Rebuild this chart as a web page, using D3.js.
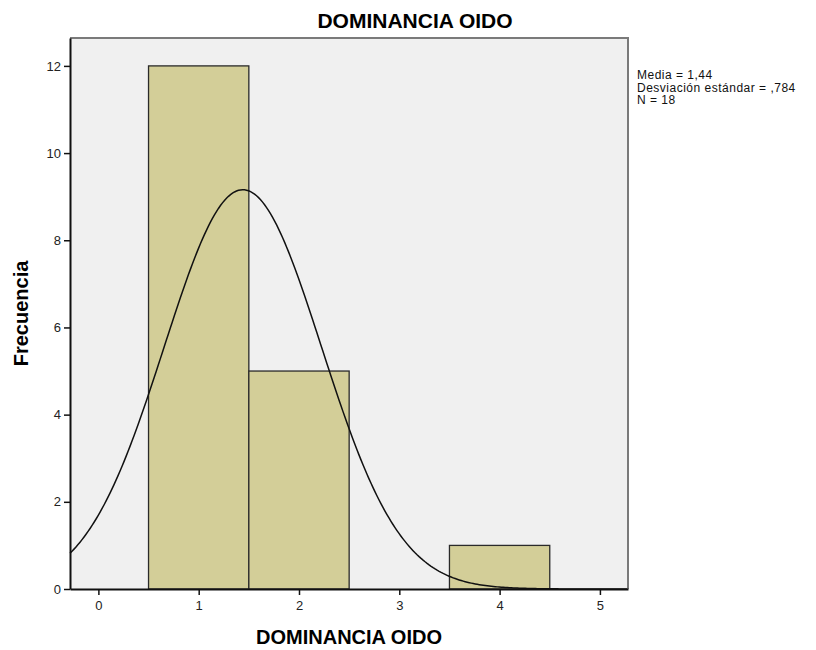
<!DOCTYPE html>
<html>
<head>
<meta charset="utf-8">
<script src="https://cdn.jsdelivr.net/npm/d3@7"></script>
<style>
  body { margin: 0; background: #fff; }
  svg text { font-family: "Liberation Sans", Arial, sans-serif; }
</style>
</head>
<body>
<div id="chart"></div>
<script>
// Datos del histograma
const binStarts = [0.5, 1.5, 2.5, 3.5];
const binCounts = [12, 5, 0, 1];
const binWidth = 1;
const xTicks = [0, 1, 2, 3, 4, 5];
const yTicks = [0, 2, 4, 6, 8, 10, 12];
const media = 1.44;
const desviacion = 0.784;
const n = 18;
const statLines = ["Media = 1,44", "Desviación estándar = ,784", "N = 18"];

const margin = { top: 38, right: 188, bottom: 60, left: 70 },
  fullWidth = 816,
  fullHeight = 650,
  width = fullWidth - margin.left - margin.right,
  height = fullHeight - margin.top - margin.bottom - 1;

const svg = d3
  .select("#chart")
  .append("svg")
  .attr("width", fullWidth)
  .attr("height", fullHeight)
  .append("g")
  .attr("transform", `translate(${margin.left},${margin.top})`);

const xScale = d3.scaleLinear().domain([-0.283, 5.28]).range([0, width]);
const yScale = d3.scaleLinear().domain([0, 12.64]).range([height, 0]);

// fondo del área de gráfico
svg
  .append("rect")
  .attr("width", width)
  .attr("height", height)
  .attr("fill", "#f0f0f0");

const bins = binStarts.map((s, i) => ({ x0: s, x1: s + binWidth, count: binCounts[i] }));

svg
  .selectAll("rect.bar")
  .data(bins.filter((d) => d.count > 0))
  .enter()
  .append("rect")
  .attr("class", "bar")
  .attr("x", (d) => xScale(d.x0))
  .attr("y", (d) => yScale(d.count))
  .attr("width", (d) => xScale(d.x1) - xScale(d.x0))
  .attr("height", (d) => yScale(0) - yScale(d.count))
  .attr("fill", "#d3ce98")
  .attr("stroke", "#2a2a2a")
  .attr("stroke-width", 1.3);

// curva normal ajustada
const densidad = (x) =>
  (n * binWidth) / (desviacion * Math.sqrt(2 * Math.PI)) *
  Math.exp(-0.5 * Math.pow((x - media) / desviacion, 2));
const xs = d3.range(xScale.domain()[0], xScale.domain()[1], 0.02);

svg
  .append("path")
  .datum(xs)
  .attr("fill", "none")
  .attr("stroke", "#111")
  .attr("stroke-width", 1.5)
  .attr(
    "d",
    d3.line().x((d) => xScale(d)).y((d) => yScale(densidad(d)))
  );

// bordes superior y derecho (gris)
svg
  .append("path")
  .attr("d", `M0,0H${width}V${height}`)
  .attr("fill", "none")
  .attr("stroke", "#7a7a7a")
  .attr("stroke-width", 2);

// ejes
const xAxis = svg
  .append("g")
  .attr("transform", `translate(0,${height})`)
  .call(
    d3.axisBottom(xScale)
      .tickValues(xTicks)
      .tickFormat(d3.format("d"))
      .tickSize(6)
      .tickPadding(6)
      .tickSizeOuter(0)
  );

const yAxis = svg
  .append("g")
  .call(
    d3.axisLeft(yScale)
      .tickValues(yTicks)
      .tickFormat(d3.format("d"))
      .tickSize(6)
      .tickPadding(3)
      .tickSizeOuter(0)
  );

[xAxis, yAxis].forEach((ax) => {
  ax.select(".domain").attr("stroke", "#111").attr("stroke-width", 2);
  ax.selectAll(".tick line").attr("stroke", "#111").attr("stroke-width", 1.5);
  ax.selectAll(".tick text")
    .style("font-family", "'Liberation Sans', Arial, sans-serif")
    .style("font-size", "13px")
    .attr("fill", "#222");
});

// títulos
svg
  .append("text")
  .attr("x", 415 - margin.left)
  .attr("y", 28 - margin.top)
  .style("text-anchor", "middle")
  .style("font-size", "21px")
  .style("font-weight", "bold")
  .text("DOMINANCIA OIDO");

svg
  .append("text")
  .attr("x", width / 2)
  .attr("y", 644 - margin.top)
  .style("text-anchor", "middle")
  .style("font-size", "20px")
  .style("font-weight", "bold")
  .text("DOMINANCIA OIDO");

svg
  .append("text")
  .attr("x", -height / 2)
  .attr("y", 28 - margin.left)
  .attr("transform", "rotate(-90)")
  .style("text-anchor", "middle")
  .style("font-size", "20px")
  .style("font-weight", "bold")
  .text("Frecuencia");

// estadísticos
svg
  .append("g")
  .selectAll("text")
  .data(statLines)
  .enter()
  .append("text")
  .attr("x", width + 9)
  .attr("y", (d, i) => 41 + i * 12.5)
  .style("font-size", "12px")
  .style("letter-spacing", "0.5px")
  .attr("fill", "#111")
  .text((d) => d);
</script>
</body>
</html>
